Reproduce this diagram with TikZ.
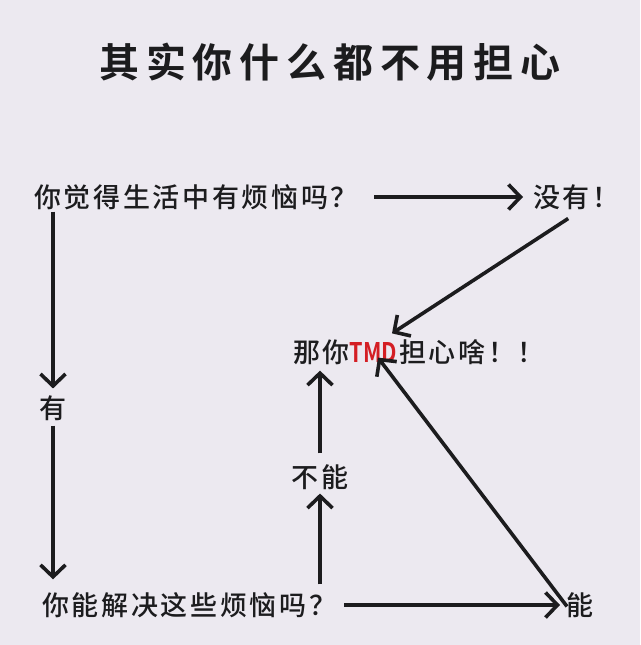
\documentclass[tikz,border=0pt]{standalone}
\usepackage{fontspec}
\usepackage{graphicx}
\usetikzlibrary{arrows.meta}
\newfontfamily\cjktitle[LetterSpace=17,UprightFont=* Bold]{Noto Sans CJK SC}
\newfontfamily\cjkbody[LetterSpace=10,UprightFont=* Medium]{Noto Sans CJK SC}
\newfontfamily\tmdfont[UprightFont=* Bold]{Noto Sans CJK SC}
\definecolor{bg}{RGB}{236,233,240}
\definecolor{ink}{RGB}{28,28,30}
\definecolor{tmdred}{RGB}{212,30,36}
\tikzset{
  lbl/.style={inner sep=0pt, outer sep=0pt, text=ink, font=\cjkbody\fontsize{27}{30}\selectfont},
  ttl/.style={inner sep=0pt, outer sep=0pt, text=ink, font=\cjktitle\fontsize{40}{44}\selectfont},
  arr/.style={draw=ink, line width=3.6pt, -{Straight Barb[length=12pt,width=25pt,line width=3.6pt]}}
}
\begin{document}
\begin{tikzpicture}[x=1pt,y=-1pt]
\fill[bg] (0,0) rectangle (640,645);
\useasboundingbox (0,0) rectangle (640,645);

\node[ttl] (title) at (330,62) {其实你什么都不用担心};

\node[lbl, anchor=west] (q1) at (34,197) {你觉得生活中有烦恼吗？};
\node[lbl, anchor=west] (no) at (533,197) {没有！};
\node[lbl, anchor=west] (ans) at (293,352) {那你\scalebox{0.8}[1]{\tmdfont\fontsize{27}{30}\selectfont\color{tmdred}TMD}\hspace{2pt}担心啥！！};
\node[lbl] (you) at (53,408) {有};
\node[lbl, anchor=west] (q2) at (42,605) {你能解决这些烦恼吗？};
\node[lbl, anchor=west] (can) at (566,605) {能};
\node[lbl] (cannot) at (320,477) {不能};

% connectors
\coordinate (q1end) at ([xshift=16pt]q1.east);
\coordinate (noin) at ([xshift=-10pt]no.west);
\draw[arr] (q1end) -- (noin);

\coordinate (q1down) at (you.center |- q1.south);
\draw[arr, shorten <=2pt, shorten >=7pt] (q1down) -- (you.north);
\coordinate (q2up) at (you.center |- q2.north);
\draw[arr, shorten <=5pt, shorten >=13pt] (you.south) -- (q2up);

\coordinate (q2end) at ([xshift=8pt]q2.east);
\coordinate (canin) at ([xshift=-6pt]can.west);
\draw[arr] (q2end) -- (canin);

\coordinate (nofrom) at ([xshift=-8pt,yshift=-9pt]no.south);
\coordinate (ansin1) at ([xshift=99pt,yshift=6pt]ans.north west);
\draw[arr] (nofrom) -- (ansin1);

\coordinate (q2top) at (cannot.center |- q2.north);
\draw[arr, shorten <=8pt, shorten >=4pt] (q2top) -- (cannot.south);
\coordinate (ansbot) at (cannot.center |- ans.south);
\draw[arr, shorten <=11pt, shorten >=6pt] (cannot.north) -- (ansbot);

\coordinate (canfrom) at ([xshift=1pt,yshift=-14pt]can.north west);
\coordinate (ansin2) at ([xshift=85pt,yshift=7pt]ans.south west);
\draw[arr] (canfrom) -- (ansin2);
\end{tikzpicture}
\end{document}
